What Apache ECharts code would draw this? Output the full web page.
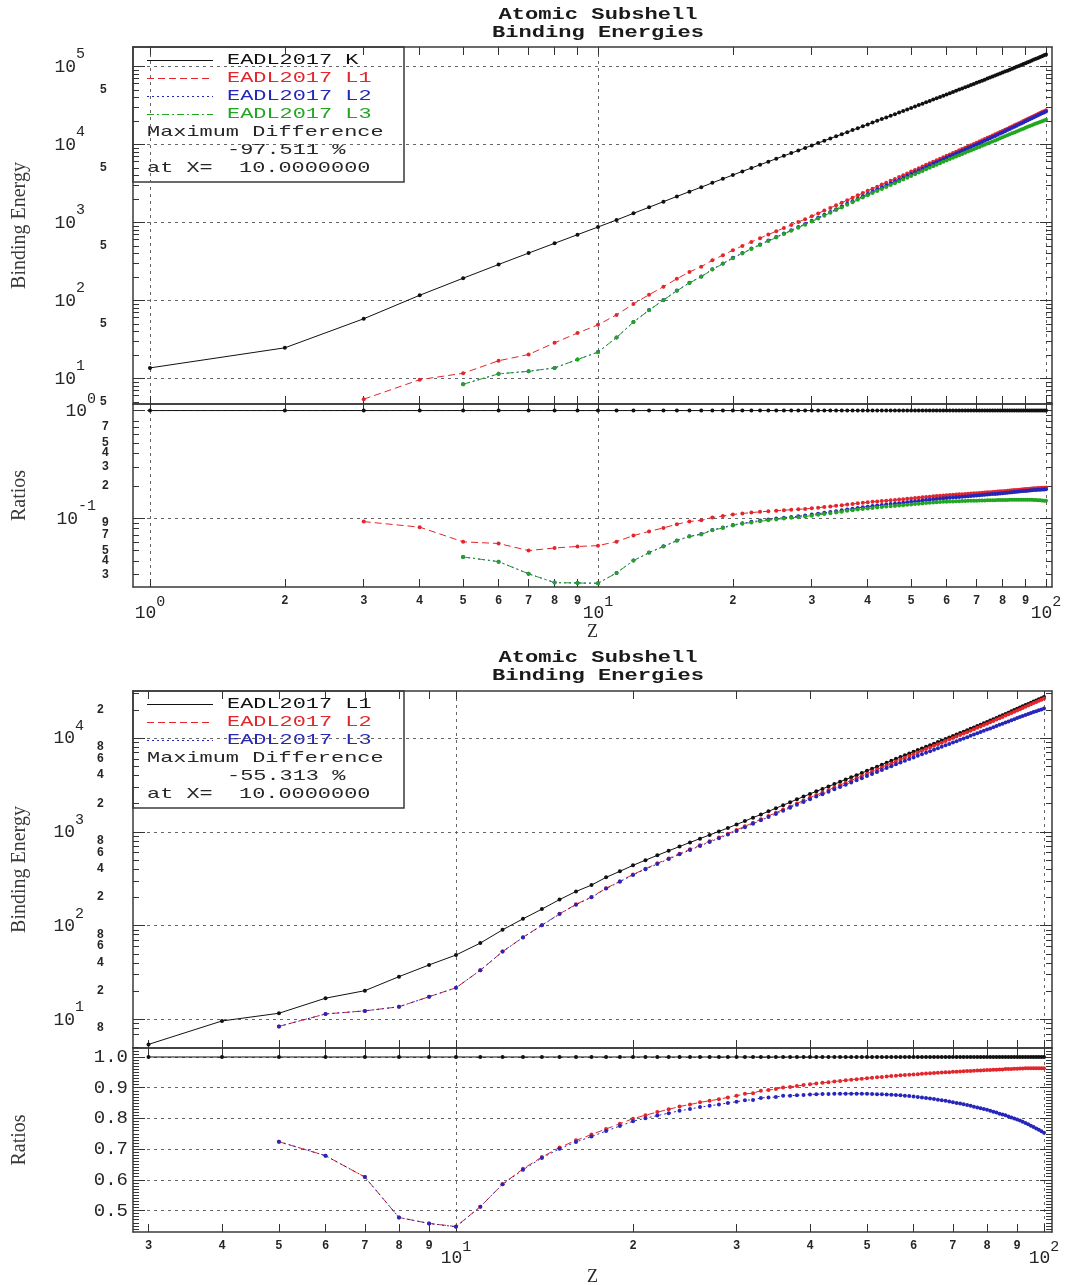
<!DOCTYPE html>
<html>
<head>
<meta charset="utf-8">
<title>Atomic Subshell Binding Energies</title>
<script src="https://cdn.jsdelivr.net/npm/echarts@6/dist/echarts.min.js"></script>
<style>
  html, body { margin: 0; padding: 0; background: #fff; }
  #chart { width: 1073px; height: 1285px; }
</style>
</head>
<body>
<div id="chart"></div>
<script>
// Atomic number Z
const Z = [
  1, 2, 3, 4, 5, 6, 7, 8, 9, 10,
  11, 12, 13, 14, 15, 16, 17, 18, 19, 20,
  21, 22, 23, 24, 25, 26, 27, 28, 29, 30,
  31, 32, 33, 34, 35, 36, 37, 38, 39, 40,
  41, 42, 43, 44, 45, 46, 47, 48, 49, 50,
  51, 52, 53, 54, 55, 56, 57, 58, 59, 60,
  61, 62, 63, 64, 65, 66, 67, 68, 69, 70,
  71, 72, 73, 74, 75, 76, 77, 78, 79, 80,
  81, 82, 83, 84, 85, 86, 87, 88, 89, 90,
  91, 92, 93, 94, 95, 96, 97, 98, 99, 100
];

// EADL2017 subshell binding energies (eV), one entry per Z; null = subshell not occupied
const bindingK = [
  13.6, 24.6, 58.0, 116.0, 192.0, 288.0, 403.0, 538.0, 694.0, 870.1,
  1070.8, 1303.0, 1559.6, 1839.0, 2145.5, 2472.0, 2822.4, 3205.9, 3608.4, 4038.5,
  4492, 4966, 5465, 5989, 6539, 7112, 7709, 8333, 8979, 9659,
  10367, 11103, 11867, 12658, 13474, 14326, 15200, 16105, 17038, 17998,
  18986, 20000, 21044, 22117, 23220, 24350, 25514, 26711, 27940, 29200,
  30491, 31814, 33169, 34561, 35985, 37441, 38925, 40443, 41991, 43569,
  45184, 46834, 48519, 50239, 51996, 53789, 55618, 57486, 59390, 61332,
  63314, 65351, 67416, 69525, 71676, 73871, 76111, 78395, 80725, 83102,
  85530, 88005, 90526, 93105, 95730, 98404, 101137, 103922, 106755, 109651,
  112601, 115606, 118678, 121818, 124982, 128241, 131556, 134939, 138396, 141926
];

const bindingL1 = [
  null, null, 5.4, 9.6, 11.6, 16.8, 20.2, 28.5, 38.0, 48.47,
  65.0, 90.0, 117.8, 149.7, 189.0, 230.9, 270.0, 326.3, 378.6, 438.4,
  498.0, 560.9, 626.7, 696.0, 769.1, 844.6, 925.1, 1008.6, 1096.7, 1196.2,
  1299.0, 1414.6, 1527.0, 1652.0, 1782, 1921, 2065, 2216, 2373, 2532,
  2698, 2866, 3043, 3224, 3412, 3604, 3806, 4018, 4238, 4465,
  4698, 4939, 5188, 5453, 5714, 5989, 6266, 6549, 6835, 7126,
  7428, 7737, 8052, 8376, 8708, 9046, 9394, 9751, 10116, 10486,
  10870, 11271, 11682, 12100, 12527, 12968, 13419, 13880, 14353, 14839,
  15347, 15861, 16388, 16939, 17493, 18049, 18639, 19237, 19840, 20472,
  21105, 21757, 22427, 23097, 23773, 24460, 25165, 25880, 26610, 27355
];

const bindingL2 = [
  null, null, null, null, 8.4, 11.4, 12.3, 13.6, 17.4, 21.70,
  33.3, 52.7, 74.9, 100.9, 133.3, 168.2, 201.8, 249.8, 296.3, 350.3,
  403.6, 460.2, 519.8, 583.8, 649.9, 719.9, 793.2, 870.0, 952.3, 1044.9,
  1143.2, 1248.1, 1359.1, 1474.3, 1596, 1730.9, 1864, 2007, 2156, 2307,
  2465, 2625, 2793, 2967, 3146, 3330, 3524, 3727, 3938, 4156,
  4380, 4612, 4852, 5107, 5359, 5624, 5891, 6164, 6440, 6722,
  7013, 7312, 7617, 7930, 8252, 8581, 8918, 9264, 9617, 9978,
  10349, 10739, 11136, 11544, 11959, 12385, 12824, 13273, 13734, 14209,
  14698, 15200, 15711, 16244, 16785, 17337, 17907, 18484, 19083, 19693,
  20314, 20948, 21597, 22245, 22896, 23560, 24239, 24930, 25633, 26354
];

const bindingL3 = [
  null, null, null, null, 8.4, 11.4, 12.3, 13.6, 17.4, 21.66,
  33.3, 52.7, 74.5, 100.5, 132.5, 167.0, 200.0, 247.6, 293.5, 346.7,
  398.7, 453.8, 512.1, 574.1, 638.7, 706.8, 778.1, 852.7, 932.7, 1021.8,
  1116.4, 1217.0, 1323.6, 1433.9, 1550, 1678.4, 1804, 1940, 2080, 2223,
  2371, 2520, 2677, 2838, 3004, 3173, 3351, 3538, 3730, 3929,
  4132, 4341, 4557, 4786, 5012, 5247, 5483, 5723, 5964, 6208,
  6459, 6716, 6977, 7243, 7514, 7790, 8071, 8358, 8648, 8944,
  9244, 9561, 9881, 10207, 10535, 10871, 11215, 11564, 11919, 12284,
  12658, 13035, 13419, 13814, 14214, 14619, 15031, 15444, 15871, 16300,
  16733, 17166, 17605, 18039, 18448, 18883, 19302, 19746, 20170, 20598
];

// Tick positions
const zTicksFromOne = [1, 2, 3, 4, 5, 6, 7, 8, 9, 10, 20, 30, 40, 50, 60, 70, 80, 90, 100];
const zTicksFromThree = [3, 4, 5, 6, 7, 8, 9, 10, 20, 30, 40, 50, 60, 70, 80, 90, 100];
const zGridLines = [1, 10, 100];

const kPanelMajor = [10, 100, 1000, 10000, 100000];
const kPanelMinor = [5, 6, 7, 8, 9, 20, 30, 40, 50, 60, 70, 80, 90,
  200, 300, 400, 500, 600, 700, 800, 900, 2000, 3000, 4000, 5000, 6000, 7000, 8000, 9000,
  20000, 30000, 40000, 50000, 60000, 70000, 80000, 90000];
const kPanelMinorLabels = [5, 50, 500, 5000, 50000];

const kRatioMajor = [0.1, 1];
const kRatioMinor = [0.03, 0.04, 0.05, 0.06, 0.07, 0.08, 0.09, 0.2, 0.3, 0.4, 0.5, 0.6, 0.7, 0.8, 0.9];
const kRatioMinorLabels = [0.03, 0.04, 0.05, 0.07, 0.09, 0.2, 0.3, 0.4, 0.5, 0.7, 0.9];

const lPanelMajor = [10, 100, 1000, 10000];
const lPanelMinor = [5, 6, 7, 8, 9, 20, 30, 40, 50, 60, 70, 80, 90,
  200, 300, 400, 500, 600, 700, 800, 900, 2000, 3000, 4000, 5000, 6000, 7000, 8000, 9000,
  20000, 30000];
const lPanelMinorLabels = [6, 8, 20, 40, 60, 80, 200, 400, 600, 800, 2000, 4000, 6000, 8000, 20000];

const lRatioMajor = [0.5, 0.6, 0.7, 0.8, 0.9, 1.0];
const lRatioMinor = [0.44, 0.45, 0.46, 0.47, 0.48, 0.49,
  0.51, 0.52, 0.53, 0.54, 0.55, 0.56, 0.57, 0.58, 0.59,
  0.61, 0.62, 0.63, 0.64, 0.65, 0.66, 0.67, 0.68, 0.69,
  0.71, 0.72, 0.73, 0.74, 0.75, 0.76, 0.77, 0.78, 0.79,
  0.81, 0.82, 0.83, 0.84, 0.85, 0.86, 0.87, 0.88, 0.89,
  0.91, 0.92, 0.93, 0.94, 0.95, 0.96, 0.97, 0.98, 0.99, 1.01, 1.02];

// ---------------------------------------------------------------------------
const MONO = '"Liberation Mono", "DejaVu Sans Mono", monospace';
const SERIF = '"Liberation Serif", "DejaVu Serif", serif';
const INK = '#262626';
const FRAME = { color: '#3a3a3a', width: 1.5 };
const GRIDLINE = { color: '#666', width: 1, type: [3, 4] };
const TICK = { color: '#333', width: 1 };

const COLORS = { black: '#111111', red: '#e2262c', blue: '#2626bb', green: '#22a622' };
const DASH = { solid: 'solid', dashed: [7, 4], dotted: [2, 3], dashdot: [7, 3, 2, 3] };

const log10 = Math.log10;
const isPow10 = v => Math.abs(log10(v) - Math.round(log10(v))) < 1e-6;
const leadDigit = v => String(Math.round(v / Math.pow(10, Math.floor(log10(v) + 1e-9))));
const powLabel = v => '{b|10}{e|' + Math.round(log10(v)) + '}';
const logTickLabel = v => isPow10(v) ? powLabel(v) : leadDigit(v);

// "10" with a raised exponent
const RICH_POW_Y = {
  b: { fontFamily: MONO, fontSize: 18, fontWeight: 'normal', lineHeight: 29, verticalAlign: 'bottom', color: INK },
  e: { fontFamily: MONO, fontSize: 15, fontWeight: 'normal', lineHeight: 15, verticalAlign: 'top', color: INK }
};
const RICH_POW_X = {
  b: { fontFamily: MONO, fontSize: 18, fontWeight: 'normal', lineHeight: 27, verticalAlign: 'bottom', color: INK },
  e: { fontFamily: MONO, fontSize: 15, fontWeight: 'normal', lineHeight: 13, verticalAlign: 'top', color: INK }
};

const grids = [], xAxes = [], yAxes = [], series = [], graphics = [];

function addGrid(top, height) {
  grids.push({ left: 133, width: 919, top: top, height: height, outerBoundsMode: 'none' });
  return grids.length - 1;
}

// Z axes of one panel; returns the index used by the series
function addZAxes(g, range, ticks, labelled, topTicks) {
  const base = { type: 'log', logBase: 10, gridIndex: g, min: range[0], max: range[1] };
  const mainIndex = xAxes.length;
  xAxes.push(Object.assign({}, base, {
    position: 'bottom',
    axisLine: { show: true, onZero: false, lineStyle: FRAME },
    axisTick: { show: true, inside: true, length: 8, customValues: ticks, lineStyle: TICK },
    axisLabel: labelled ? {
      show: true, customValues: ticks, margin: 8, formatter: logTickLabel,
      fontFamily: MONO, fontSize: 12, fontWeight: 'bold', color: INK, rich: RICH_POW_X
    } : { show: false },
    splitLine: { show: false },
    name: labelled ? 'Z' : '',
    nameLocation: 'middle', nameGap: 36,
    nameTextStyle: { fontFamily: SERIF, fontSize: 18, color: INK }
  }));
  // decade grid lines
  xAxes.push(Object.assign({}, base, {
    position: 'bottom',
    axisLine: { show: false },
    axisTick: { show: false, customValues: zGridLines },
    axisLabel: { show: false },
    splitLine: { show: true, lineStyle: GRIDLINE }
  }));
  xAxes.push(Object.assign({}, base, {
    position: 'top',
    axisLine: { show: true, onZero: false, lineStyle: FRAME },
    axisTick: { show: topTicks, inside: true, length: 8, customValues: ticks, lineStyle: TICK },
    axisLabel: { show: false },
    splitLine: { show: false }
  }));
  return mainIndex;
}

// vertical axes of one panel; returns the index used by the series
function addValueAxes(g, cfg) {
  const base = { type: cfg.type, gridIndex: g, min: cfg.range[0], max: cfg.range[1] };
  if (cfg.type === 'log') base.logBase = 10;
  const mainIndex = yAxes.length;
  yAxes.push(Object.assign({}, base, {
    position: 'left',
    name: cfg.name, nameLocation: 'middle', nameGap: cfg.nameGap,
    nameTextStyle: { fontFamily: SERIF, fontSize: 20, color: '#3a3a3a' },
    axisLine: { show: true, onZero: false, lineStyle: FRAME },
    axisTick: { show: true, inside: true, length: 12, customValues: cfg.major, lineStyle: TICK },
    axisLabel: {
      show: true, customValues: cfg.major, margin: cfg.majorMargin, formatter: cfg.majorFormat,
      fontFamily: MONO, fontSize: cfg.majorSize || 18, color: INK, rich: RICH_POW_Y,
      padding: cfg.majorPadding || 0
    },
    splitLine: { show: true, lineStyle: GRIDLINE }
  }));
  yAxes.push(Object.assign({}, base, {
    position: 'left',
    axisLine: { show: false },
    axisTick: { show: true, inside: true, length: 6, customValues: cfg.minor, lineStyle: TICK },
    axisLabel: cfg.minorLabels ? {
      show: true, customValues: cfg.minorLabels, margin: cfg.minorMargin, formatter: leadDigit,
      fontFamily: MONO, fontSize: 12, fontWeight: 'bold', color: INK
    } : { show: false },
    splitLine: { show: false }
  }));
  yAxes.push(Object.assign({}, base, {
    position: 'right',
    axisLine: { show: true, onZero: false, lineStyle: FRAME },
    axisTick: { show: true, inside: true, length: 12, customValues: cfg.major, lineStyle: TICK },
    axisLabel: { show: false },
    splitLine: { show: false }
  }));
  yAxes.push(Object.assign({}, base, {
    position: 'right',
    axisLine: { show: false },
    axisTick: { show: true, inside: true, length: 6, customValues: cfg.minor, lineStyle: TICK },
    axisLabel: { show: false },
    splitLine: { show: false }
  }));
  return mainIndex;
}

function pairs(values) {
  const out = [];
  for (let i = 0; i < Z.length; i++) {
    if (values[i] != null) out.push([Z[i], values[i]]);
  }
  return out;
}

function ratioTo(values, reference) {
  return values.map((v, i) => (v == null || reference[i] == null) ? null : v / reference[i]);
}

function addLine(name, values, xi, yi, color, dash) {
  series.push({
    type: 'line', name: name, data: pairs(values),
    xAxisIndex: xi, yAxisIndex: yi,
    symbol: 'circle', symbolSize: 4, showSymbol: true,
    itemStyle: { color: color },
    lineStyle: { color: color, width: 1, type: dash },
    emphasis: { disabled: true }, silent: true, z: 3
  });
}

// largest relative deviation of the compared subshells from the reference one
function maxDifference(compared, reference) {
  let best = null;
  compared.forEach(values => values.forEach((v, i) => {
    if (v == null) return;
    const d = (v / reference[i] - 1) * 100;
    if (best === null || Math.abs(d) > Math.abs(best.d)) best = { d: d, z: Z[i] };
  }));
  return best;
}

function titleBlock(y) {
  const font = 'bold 16px ' + MONO;
  ['Atomic Subshell', 'Binding Energies'].forEach((t, k) => {
    graphics.push({
      type: 'text', x: 598, y: y + k * 17.5, scaleX: 1.38, z: 50,
      style: { text: t, font: font, fill: '#1a1a1a', textAlign: 'center', textVerticalAlign: 'middle',
               align: 'center', verticalAlign: 'middle' }
    });
  });
}

function legendBlock(top, entries, diff) {
  const lines = entries.length + 3;
  const first = top + 13.5;
  const step = 18;
  const font = '15px ' + MONO;
  const children = [{
    type: 'rect',
    shape: { x: 133, y: top, width: 271, height: (lines - 1) * step + 27 },
    style: { fill: '#ffffff', stroke: '#3a3a3a', lineWidth: 1.5 }
  }];
  const addText = (x, y, text, color) => children.push({
    type: 'text', x: x, y: y, scaleX: 1.46,
    style: { text: text, font: font, fill: color, textAlign: 'left', textVerticalAlign: 'middle',
             align: 'left', verticalAlign: 'middle' }
  });
  entries.forEach((e, k) => {
    const y = first + k * step;
    children.push({
      type: 'line', shape: { x1: 147, y1: y, x2: 213, y2: y },
      style: { stroke: e.color, lineWidth: 1, lineDash: e.dash === 'solid' ? null : e.dash }
    });
    addText(227, y, e.label, e.color);
  });
  const yd = first + entries.length * step;
  addText(147, yd, 'Maximum Difference', INK);
  addText(227, yd + step, diff.d.toFixed(3) + ' %', INK);
  addText(147, yd + 2 * step, 'at X=  ' + diff.z.toFixed(7), INK);
  graphics.push({ type: 'group', z: 60, children: children });
}

// ---------------- upper figure: K, L1, L2, L3 ----------------
const zRangeUpper = [0.9164, 103.13];
const gK = addGrid(47, 357);
const gKr = addGrid(404, 183);
const xK = addZAxes(gK, zRangeUpper, zTicksFromOne, false, true);
const xKr = addZAxes(gKr, zRangeUpper, zTicksFromOne, true, true);
const yK = addValueAxes(gK, {
  type: 'log', range: [4.684, 176800], name: 'Binding Energy', nameGap: 103,
  major: kPanelMajor, majorMargin: 48, majorFormat: powLabel, majorPadding: [0, 0, 10, 0],
  minor: kPanelMinor, minorLabels: kPanelMinorLabels, minorMargin: 26
});
const yKr = addValueAxes(gKr, {
  type: 'log', range: [0.02301, 1.151], name: 'Ratios', nameGap: 103,
  major: kRatioMajor, majorMargin: 37, majorFormat: powLabel, majorPadding: [0, 0, 10, 0],
  minor: kRatioMinor, minorLabels: kRatioMinorLabels, minorMargin: 24
});

const upperSet = [
  { label: 'EADL2017 K',  values: bindingK,  color: COLORS.black, dash: DASH.solid },
  { label: 'EADL2017 L1', values: bindingL1, color: COLORS.red,   dash: DASH.dashed },
  { label: 'EADL2017 L2', values: bindingL2, color: COLORS.blue,  dash: DASH.dotted },
  { label: 'EADL2017 L3', values: bindingL3, color: COLORS.green, dash: DASH.dashdot }
];
upperSet.forEach(s => addLine(s.label, s.values, xK, yK, s.color, s.dash));
upperSet.forEach(s => addLine(s.label + ' / K', ratioTo(s.values, bindingK), xKr, yKr, s.color, s.dash));

// ---------------- lower figure: L1, L2, L3 ----------------
const zRangeLower = [2.8232, 103.18];
const gL = addGrid(691, 357);
const gLr = addGrid(1048, 184);
const xL = addZAxes(gL, zRangeLower, zTicksFromThree, false, true);
const xLr = addZAxes(gLr, zRangeLower, zTicksFromThree, true, true);
const yL = addValueAxes(gL, {
  type: 'log', range: [4.943, 31710], name: 'Binding Energy', nameGap: 103,
  major: lPanelMajor, majorMargin: 49, majorFormat: powLabel, majorPadding: [0, 0, 10, 0],
  minor: lPanelMinor, minorLabels: lPanelMinorLabels, minorMargin: 29
});
const yLr = addValueAxes(gLr, {
  type: 'value', range: [0.430, 1.0293], name: 'Ratios', nameGap: 103,
  major: lRatioMajor, majorMargin: 5, majorFormat: v => v.toFixed(1), majorSize: 19,
  minor: lRatioMinor, minorLabels: null, minorMargin: 0
});

const lowerSet = [
  { label: 'EADL2017 L1', values: bindingL1, color: COLORS.black, dash: DASH.solid },
  { label: 'EADL2017 L2', values: bindingL2, color: COLORS.red,   dash: DASH.dashed },
  { label: 'EADL2017 L3', values: bindingL3, color: COLORS.blue,  dash: DASH.dotted }
];
lowerSet.forEach(s => addLine(s.label, s.values, xL, yL, s.color, s.dash));
lowerSet.forEach(s => addLine(s.label + ' / L1', ratioTo(s.values, bindingL1), xLr, yLr, s.color, s.dash));

// ---------------- titles and legend boxes ----------------
titleBlock(15);
titleBlock(658);
legendBlock(47, upperSet, maxDifference([bindingL1, bindingL2, bindingL3], bindingK));
legendBlock(691, lowerSet, maxDifference([bindingL2, bindingL3], bindingL1));

const chart = echarts.init(document.getElementById('chart'), null, { renderer: 'canvas' });
chart.setOption({
  animation: false,
  backgroundColor: '#ffffff',
  textStyle: { fontFamily: MONO },
  grid: grids,
  xAxis: xAxes,
  yAxis: yAxes,
  series: series,
  graphic: { elements: graphics }
});
</script>
</body>
</html>
